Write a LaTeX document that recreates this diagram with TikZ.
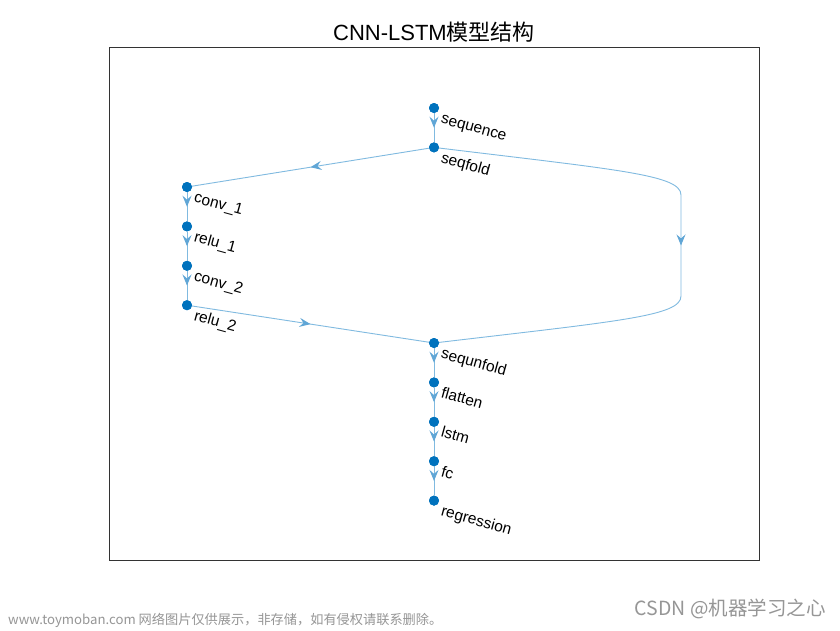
\documentclass[tikz,border=0pt]{standalone}
\usepackage{fontspec}
\setmainfont{Liberation Sans}
\newfontfamily\cjk{Noto Sans CJK SC}
\usetikzlibrary{positioning,arrows.meta,decorations.markings}
\definecolor{matblue}{RGB}{0,114,189}
\definecolor{edgeblue}{RGB}{128,186,224}
\definecolor{tipblue}{RGB}{96,166,214}
\definecolor{markgray}{RGB}{150,150,150}
\tikzstyle{every picture}=[x=1pt, y=-1pt]
\tikzstyle{dot}=[circle, fill=matblue, inner sep=0pt, minimum size=10pt]
\tikzstyle{lbl}=[anchor=west, rotate=-15.5, inner sep=0pt, text height=10pt, text depth=3pt,%
	font=\fontsize{15.5}{17}\selectfont]
\tikzstyle{edge}=[draw=edgeblue, line width=0.9pt, postaction={decorate},%
	decoration={markings, mark=at position 0.5 with {\arrow[tipblue]{Stealth[length=11pt,width=9pt,inset=4pt]}}}]

\begin{document}
\begin{tikzpicture}
	\useasboundingbox[fill=white] (0,0) rectangle (840,630);
	\draw[line width=0.6pt, black!80] (109,47) rectangle (759,560);
	\node (title) at (434,32) {\fontsize{22}{25}\selectfont CNN-LSTM\cjk 模型结构};
	% layers
	\node[dot] (sequence) at (434,108) {};
	\node[dot] (seqfold) [below=29pt of sequence] {};
	\node[dot] (conv1) at (187,187) {};
	\node[dot] (relu1) [below=29pt of conv1] {};
	\node[dot] (conv2) [below=29pt of relu1] {};
	\node[dot] (relu2) [below=29pt of conv2] {};
	\node[dot] (sequnfold) at (434,343) {};
	\node[dot] (flatten) [below=29pt of sequnfold] {};
	\node[dot] (lstm) [below=29pt of flatten] {};
	\node[dot] (fc) [below=29pt of lstm] {};
	\node[dot] (regression) [below=29pt of fc] {};
	% edges
	\path[edge] (sequence) -- (seqfold);
	\path[edge] (seqfold) -- (conv1);
	\path[edge] (conv1) -- (relu1);
	\path[edge] (relu1) -- (conv2);
	\path[edge] (conv2) -- (relu2);
	\path[edge] (relu2) -- (sequnfold);
	\path[edge] (seqfold) .. controls (620,170) and (681,175) .. (681,195)
		-- (681,296) .. controls (681,316) and (620,321) .. (sequnfold);
	\path[edge] (sequnfold) -- (flatten);
	\path[edge] (flatten) -- (lstm);
	\path[edge] (lstm) -- (fc);
	\path[edge] (fc) -- (regression);
	% redraw dots above edges
	\foreach \n in {sequence,seqfold,conv1,relu1,conv2,relu2,sequnfold,flatten,lstm,fc,regression}
		\fill[matblue] (\n) circle (5pt);
	% labels
	\node[lbl] at ([shift={(7,11.5)}]sequence.center) {sequence};
	\node[lbl] at ([shift={(7,11.5)}]seqfold.center) {seqfold};
	\node[lbl] at ([shift={(7,11.5)}]conv1.center) {conv\_1};
	\node[lbl] at ([shift={(7,11.5)}]relu1.center) {relu\_1};
	\node[lbl] at ([shift={(7,11.5)}]conv2.center) {conv\_2};
	\node[lbl] at ([shift={(7,11.5)}]relu2.center) {relu\_2};
	\node[lbl] at ([shift={(7,11.5)}]sequnfold.center) {sequnfold};
	\node[lbl] at ([shift={(7,11.5)}]flatten.center) {flatten};
	\node[lbl] at ([shift={(7,11.5)}]lstm.center) {lstm};
	\node[lbl] at ([shift={(7,11.5)}]fc.center) {fc};
	\node[lbl] at ([shift={(7,11.5)}]regression.center) {regression};
	% watermarks
	\node[anchor=west, markgray, inner sep=0pt] (site) at (8,620)
		{\cjk\fontsize{13.2}{15}\selectfont www.toymoban.com 网络图片仅供展示，非存储，如有侵权请联系删除。};
	\node[anchor=east, markgray, inner sep=0pt] (csdn) at (826,609)
		{\cjk\fontsize{19.5}{22}\selectfont CSDN @机器学习之心};
\end{tikzpicture}
\end{document}
